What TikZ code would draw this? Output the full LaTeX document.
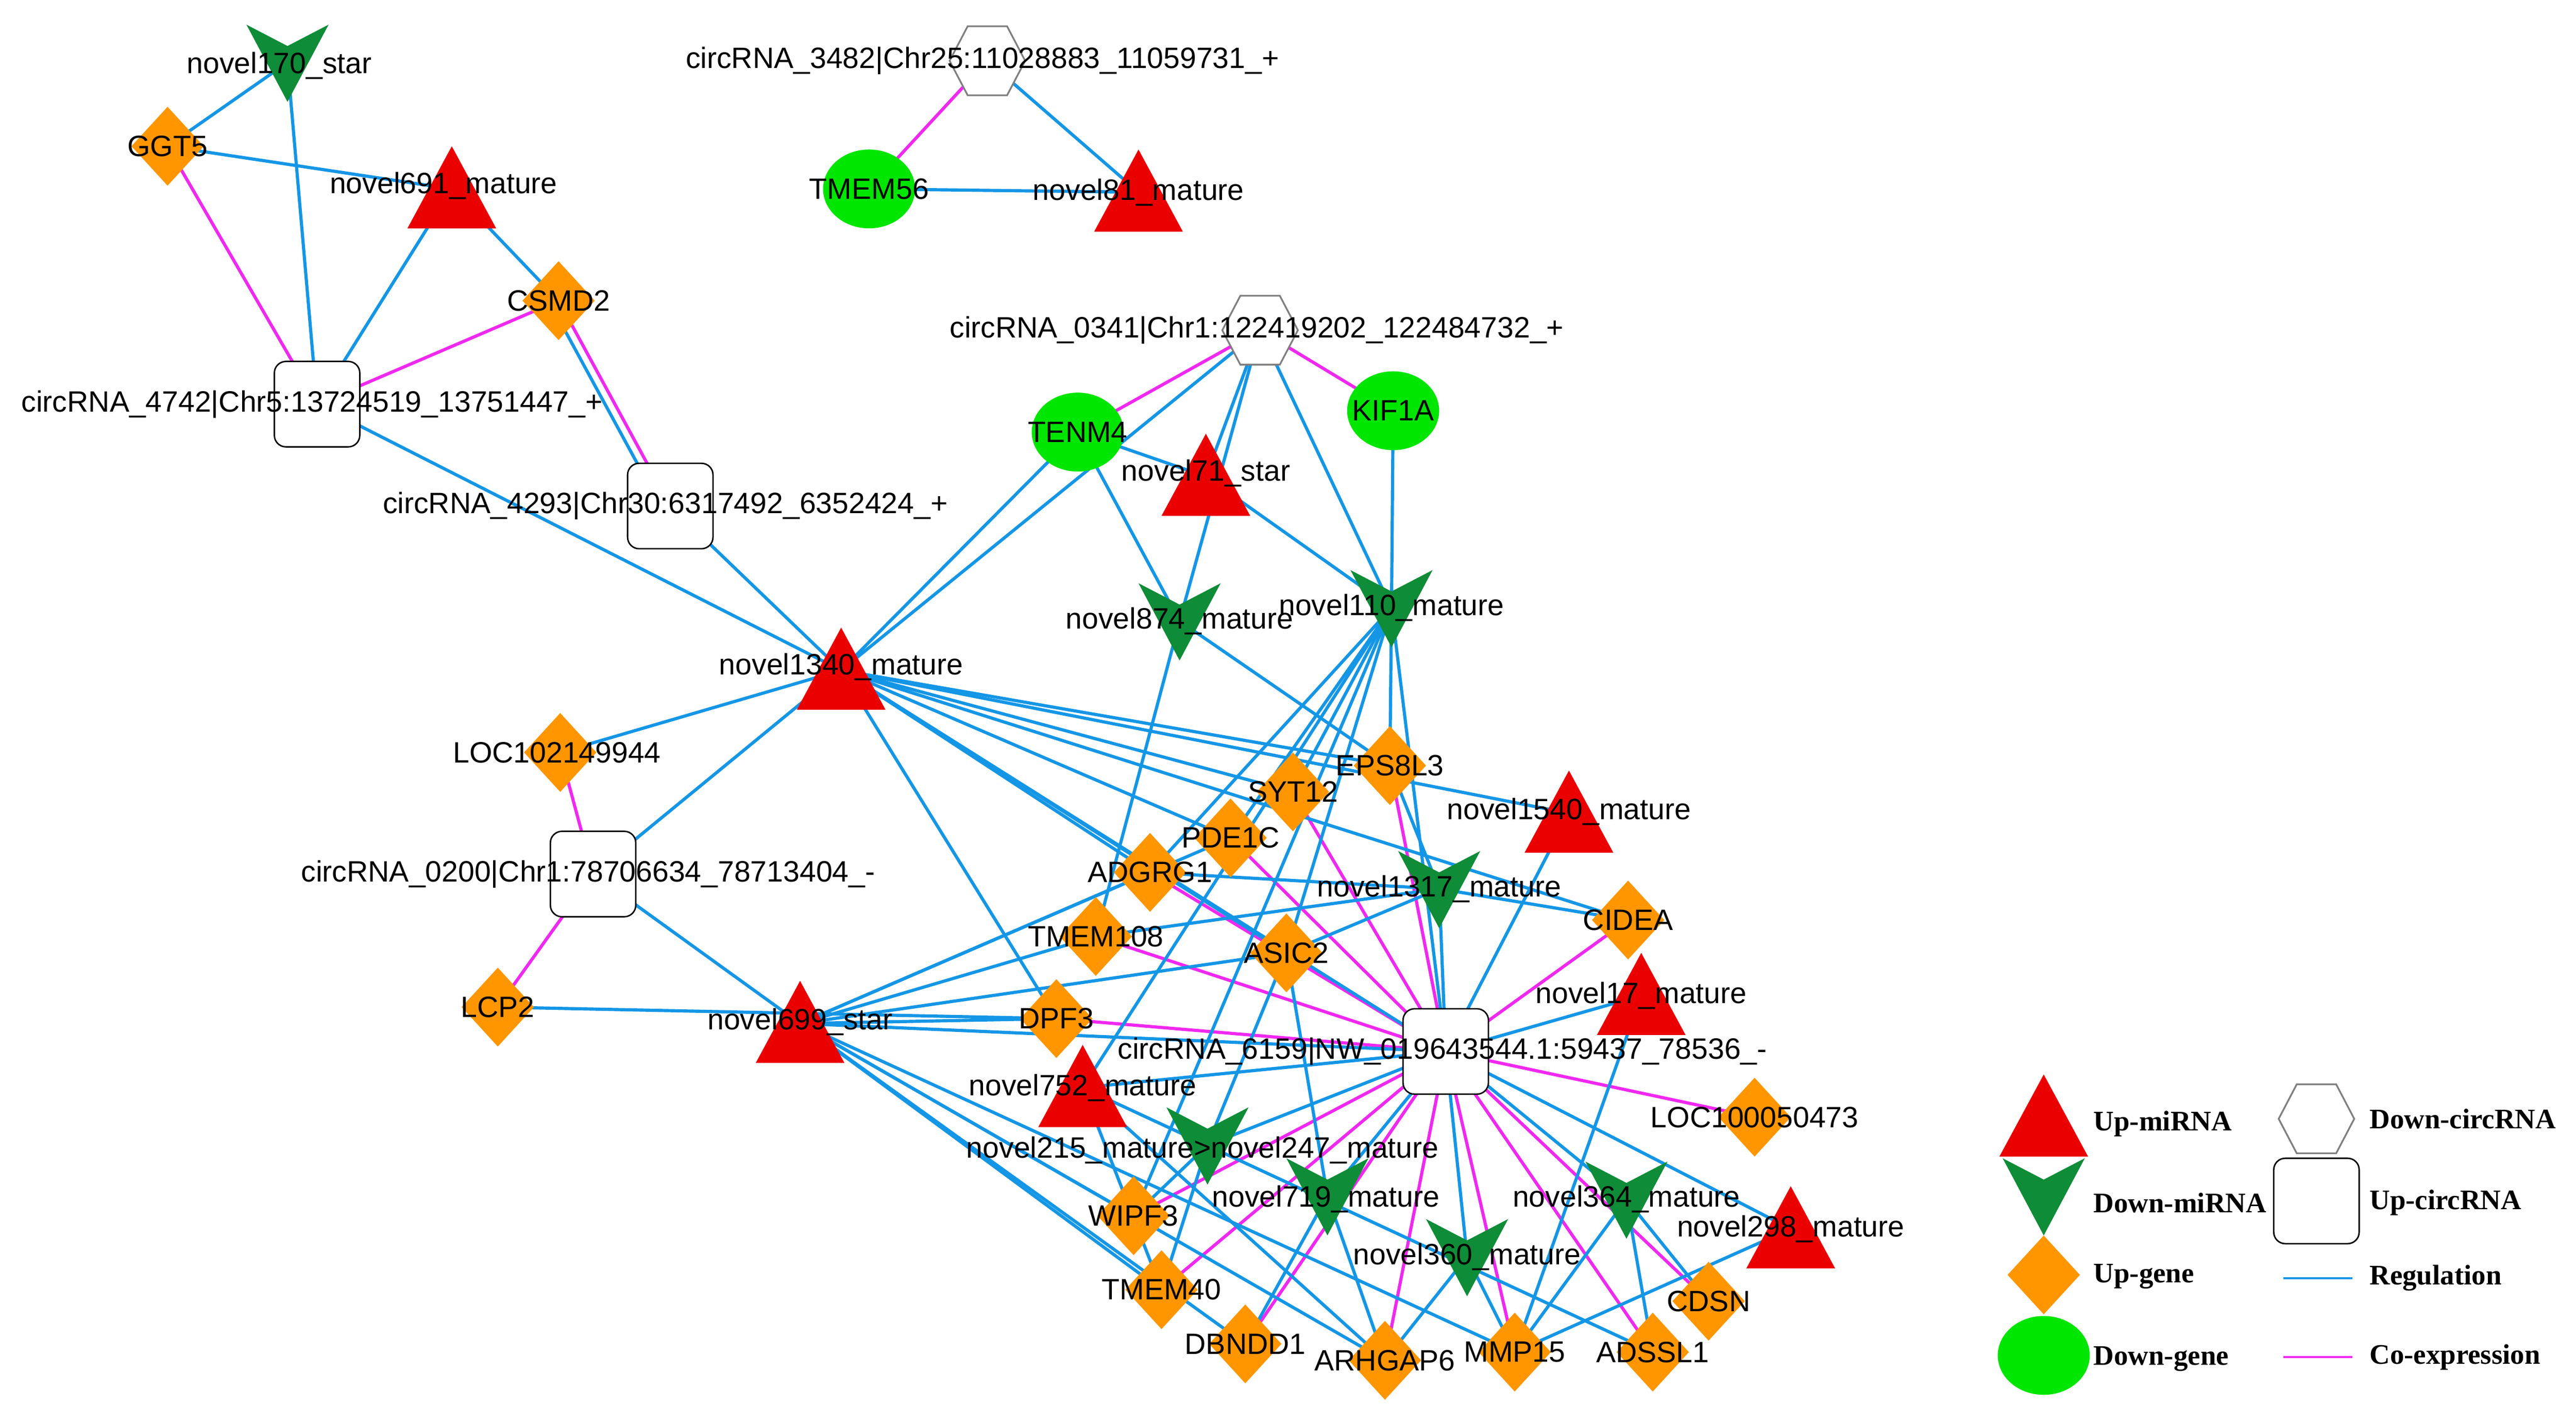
\documentclass[tikz,border=0pt]{standalone}
\usepackage{fontspec}
\setmainfont{Liberation Sans}
\newfontfamily\legfont{Liberation Serif}
\definecolor{regblue}{RGB}{20,150,230}
\definecolor{coexm}{RGB}{240,40,240}
\definecolor{upred}{RGB}{235,0,0}
\definecolor{dgreen}{RGB}{15,140,55}
\definecolor{gorange}{RGB}{255,150,0}
\definecolor{lgreen}{RGB}{0,230,0}
\tikzset{
 reg/.style={draw=regblue,line width=1.1pt},
 co/.style={draw=coexm,line width=1.1pt},
 lab/.style={font=\fontsize{10.2}{12}\selectfont,inner sep=0pt},
 leg/.style={font=\legfont\bfseries\fontsize{9.8}{12}\selectfont,anchor=west,inner sep=0pt},
 um/.pic={\fill[upred] (-27,24)--(27,24)--(0,-26)--cycle;},
 dm/.pic={\fill[dgreen] (-25,-23)--(0,-10)--(25,-23)--(0,24)--cycle;},
 ug/.pic={\fill[gorange] (0,-24)--(22,0)--(0,24)--(-22,0)--cycle;},
 dg/.pic={\fill[lgreen] (0,0) ellipse [x radius=28,y radius=24];},
 uc/.pic={\draw[fill=white,rounded corners=4pt,line width=0.5pt] (-26,-26) rectangle (26,26);},
 dc/.pic={\draw[fill=white,draw=gray,line width=0.6pt] (-23,0)--(-12,-21)--(12,-21)--(23,0)--(12,21)--(-12,21)--cycle;},
}
\begin{document}
\begin{tikzpicture}[x=0.02cm,y=-0.02cm]
\useasboundingbox (0,0) rectangle (1568,866);
% coordinates
\coordinate (n170) at (175,38);
\coordinate (ggt5) at (102,89);
\coordinate (n691) at (275,115);
\coordinate (csmd2) at (340,183);
\coordinate (c4742) at (193,246);
\coordinate (c4293) at (408,308);
\coordinate (c3482) at (601,37);
\coordinate (tmem56) at (529,115);
\coordinate (n81) at (693,117);
\coordinate (c0341) at (767,201);
\coordinate (tenm4) at (656,263);
\coordinate (kif1a) at (848,250);
\coordinate (n71) at (734,290);
\coordinate (n874) at (718,378);
\coordinate (n110) at (847,370);
\coordinate (n1340) at (512,408);
\coordinate (loc102) at (341,458);
\coordinate (c0200) at (361,532);
\coordinate (lcp2) at (303,613);
\coordinate (n699) at (487,623);
\coordinate (eps8l3) at (846,466);
\coordinate (syt12) at (787,482);
\coordinate (n1540) at (955,495);
\coordinate (pde1c) at (749,510);
\coordinate (adgrg1) at (700,531);
\coordinate (n1317) at (876,541);
\coordinate (cidea) at (991,560);
\coordinate (tmem108) at (667,570);
\coordinate (asic2) at (783,580);
\coordinate (dpf3) at (643,620);
\coordinate (n17) at (999,606);
\coordinate (c6159) at (880,640);
\coordinate (n752) at (659,662);
\coordinate (loc100) at (1068,680);
\coordinate (n215) at (735,697);
\coordinate (n719) at (808,728);
\coordinate (n360) at (893,765);
\coordinate (n364) at (990,730);
\coordinate (n298) at (1090,748);
\coordinate (wipf3) at (690,740);
\coordinate (tmem40) at (707,785);
\coordinate (dbndd1) at (758,818);
\coordinate (arhgap6) at (843,828);
\coordinate (mmp15) at (922,823);
\coordinate (adssl1) at (1006,823);
\coordinate (cdsn) at (1040,792);
% co-expression edges
\foreach \a/\b in {ggt5/c4742,csmd2/c4742,csmd2/c4293,c3482/tmem56,c0341/tenm4,c0341/kif1a,
 c0200/loc102,c0200/lcp2,
 c6159/adgrg1,c6159/pde1c,c6159/syt12,c6159/eps8l3,c6159/asic2,c6159/tmem108,c6159/dpf3,
 c6159/cidea,c6159/loc100,c6159/cdsn,c6159/adssl1,c6159/mmp15,c6159/arhgap6,c6159/dbndd1,
 c6159/tmem40,c6159/wipf3}
 \draw[co] (\a)--(\b);
\draw[reg] ([xshift=-0.12cm]csmd2)--([xshift=-0.12cm]c4293);
% regulation edges
\foreach \a/\b in {n170/ggt5,n170/c4742,ggt5/n691,n691/c4742,n691/csmd2,c4742/n1340,c4293/n1340,
 c3482/n81,tmem56/n81,
 c0341/n71,c0341/n1340,c0341/n874,c0341/n110,tenm4/n1340,tenm4/n71,tenm4/n874,kif1a/n110,n71/n110,
 n1340/loc102,n1340/eps8l3,n1340/syt12,n1340/pde1c,n1340/n1540,n1340/adgrg1,n1340/asic2,
 n1340/c6159,n1340/dpf3,n1340/cidea,c0200/n1340,c0200/n699,lcp2/dpf3,
 n699/adgrg1,n699/tmem108,n699/pde1c,n699/asic2,n699/dpf3,n699/c6159,n699/wipf3,n699/tmem40,
 n699/dbndd1,n699/arhgap6,n699/mmp15,
 n874/tmem108,n874/eps8l3,
 n110/eps8l3,n110/syt12,n110/pde1c,n110/adgrg1,n110/asic2,n110/wipf3,n110/n752,n110/c6159,
 c6159/n1317,c6159/n17,c6159/n1540,c6159/n752,c6159/n215,c6159/n719,c6159/n360,c6159/n364,
 c6159/n298,
 n1317/eps8l3,n1317/adgrg1,n1317/tmem108,n1317/asic2,n1317/cidea,
 n17/mmp15,n364/cdsn,n364/mmp15,n364/adssl1,n360/arhgap6,n360/mmp15,
 n719/arhgap6,n719/dbndd1,n719/asic2,n215/tmem40,n215/wipf3,n215/asic2,
 n752/tmem40,n752/arhgap6,n752/adssl1,n298/mmp15}
 \draw[reg] (\a)--(\b);
% shapes
\foreach \c in {n691,n81,n71,n1340,n699,n1540,n17,n752,n298} \pic at (\c) {um};
\foreach \c in {n170,n874,n110,n1317,n215,n719,n360,n364} \pic at (\c) {dm};
\foreach \c in {ggt5,csmd2,loc102,lcp2,eps8l3,syt12,pde1c,adgrg1,cidea,tmem108,asic2,dpf3,
 loc100,wipf3,tmem40,dbndd1,arhgap6,mmp15,adssl1,cdsn} \pic at (\c) {ug};
\foreach \c in {tmem56,tenm4,kif1a} \pic at (\c) {dg};
\foreach \c in {c4742,c4293,c0200,c6159} \pic at (\c) {uc};
\foreach \c in {c3482,c0341} \pic at (\c) {dc};
% labels
\node[lab] (l170) at (170,40) {novel170\_star};
\node[lab] (lggt5) at (102,89) {GGT5};
\node[lab] (l691) at (270,113) {novel691\_mature};
\node[lab] (lcsmd2) at (340,183) {CSMD2};
\node[lab] (l4742) at (190,246) {circRNA\_4742|Chr5:13724519\_13751447\_+};
\node[lab] (l4293) at (405,308) {circRNA\_4293|Chr30:6317492\_6352424\_+};
\node[lab] (l3482) at (598,37) {circRNA\_3482|Chr25:11028883\_11059731\_+};
\node[lab] (ltmem56) at (529,115) {TMEM56};
\node[lab] (l81) at (693,117) {novel81\_mature};
\node[lab] (l0341) at (765,201) {circRNA\_0341|Chr1:122419202\_122484732\_+};
\node[lab] (ltenm4) at (656,263) {TENM4};
\node[lab] (lkif1a) at (848,250) {KIF1A};
\node[lab] (l71) at (734,288) {novel71\_star};
\node[lab] (l874) at (718,378) {novel874\_mature};
\node[lab] (l110) at (847,370) {novel110\_mature};
\node[lab] (l1340) at (512,406) {novel1340\_mature};
\node[lab] (lloc102) at (339,458) {LOC102149944};
\node[lab] (l0200) at (358,532) {circRNA\_0200|Chr1:78706634\_78713404\_-};
\node[lab] (llcp2) at (303,613) {LCP2};
\node[lab] (l699) at (487,622) {novel699\_star};
\node[lab] (leps) at (846,466) {EPS8L3};
\node[lab] (lsyt) at (787,482) {SYT12};
\node[lab] (l1540) at (955,494) {novel1540\_mature};
\node[lab] (lpde) at (749,510) {PDE1C};
\node[lab] (ladg) at (700,531) {ADGRG1};
\node[lab] (l1317) at (876,541) {novel1317\_mature};
\node[lab] (lcidea) at (991,560) {CIDEA};
\node[lab] (ltm108) at (667,570) {TMEM108};
\node[lab] (lasic) at (783,580) {ASIC2};
\node[lab] (ldpf) at (643,620) {DPF3};
\node[lab] (l17) at (999,606) {novel17\_mature};
\node[lab] (l6159) at (878,640) {circRNA\_6159|NW\_019643544.1:59437\_78536\_-};
\node[lab] (l752) at (659,662) {novel752\_mature};
\node[lab] (lloc100) at (1068,680) {LOC100050473};
\node[lab] (l215) at (732,700) {novel215\_mature>novel247\_mature};
\node[lab] (l719) at (807,730) {novel719\_mature};
\node[lab] (l364) at (990,730) {novel364\_mature};
\node[lab] (l298) at (1090,748) {novel298\_mature};
\node[lab] (l360) at (893,765) {novel360\_mature};
\node[lab] (lwipf) at (690,740) {WIPF3};
\node[lab] (ltm40) at (707,785) {TMEM40};
\node[lab] (ldbn) at (758,818) {DBNDD1};
\node[lab] (larh) at (843,828) {ARHGAP6};
\node[lab] (lmmp) at (922,823) {MMP15};
\node[lab] (lads) at (1006,823) {ADSSL1};
\node[lab] (lcdsn) at (1040,792) {CDSN};
% legend
\coordinate (g1) at (1244,680); \pic at (g1) {um};
\coordinate (g2) at (1244,728); \pic at (g2) {dm};
\coordinate (g3) at (1244,776); \pic at (g3) {ug};
\coordinate (g4) at (1244,825); \pic at (g4) {dg};
\coordinate (g5) at (1410,681); \pic at (g5) {dc};
\coordinate (g6) at (1410,731); \pic at (g6) {uc};
\coordinate (r1) at (1390,778); \coordinate (r2) at (1432,778);
\coordinate (k1) at (1390,826); \coordinate (k2) at (1432,826);
\draw[draw=regblue,line width=0.8pt] (r1)--(r2);
\draw[draw=coexm,line width=0.8pt] (k1)--(k2);
\node[leg] (t1) at (1274,684) {Up-miRNA};
\node[leg] (t2) at (1274,732) {Down-miRNA};
\node[leg] (t3) at (1274,777) {Up-gene};
\node[leg] (t4) at (1274,827) {Down-gene};
\node[leg] (t5) at (1442,681) {Down-circRNA};
\node[leg] (t6) at (1442,732) {Up-circRNA};
\node[leg] (t7) at (1442,778) {Regulation};
\node[leg] (t8) at (1442,826) {Co-expression};
\end{tikzpicture}
\end{document}
